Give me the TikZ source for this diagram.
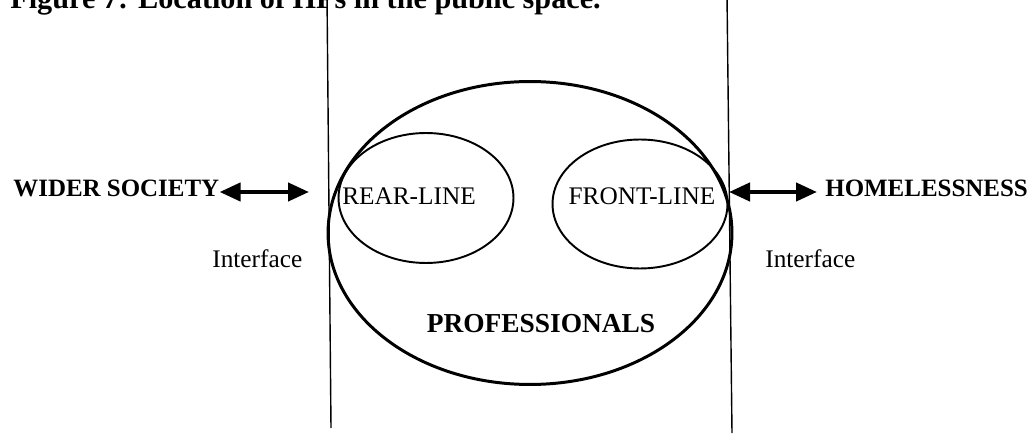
\documentclass[tikz,border=0pt]{standalone}
\usepackage{fontspec}
\setmainfont{Liberation Serif}
\usetikzlibrary{arrows.meta,shapes.geometric}

\tikzset{
  plain/.style={inner sep=0pt,font=\fontsize{14.4}{17}\selectfont},
  heavy/.style={inner sep=0pt,font=\fontsize{14.2}{17}\selectfont\bfseries},
  group/.style={ellipse,draw,inner sep=0pt,line width=1.1pt},
  twoway/.style={{Triangle[length=0.42cm,width=0.36cm]}-{Triangle[length=0.42cm,width=0.36cm]},line width=2.4pt},
  divider/.style={line width=0.8pt}
}

\begin{document}
\begin{tikzpicture}[x=0.02cm,y=-0.02cm]
\useasboundingbox (0,0) rectangle (1031,435);
\clip (0,0) rectangle (1031,435);

% caption, cut at the top of the page
\node[heavy,anchor=base west,font=\fontsize{17.2}{20}\selectfont\bfseries] (caption) at (10,9) {Figure 7: Location of HPs in the public space.};

% the two interfaces
\coordinate (ltop) at (327,-5);
\coordinate (lbot) at (331,428);
\coordinate (rtop) at (727,-5);
\coordinate (rbot) at (732,433);
\draw[divider] (ltop) -- (lbot);
\draw[divider] (rtop) -- (rbot);

% professionals
\node[group,line width=1.7pt,minimum width=8.08cm,minimum height=6.06cm] (prof) at (530,233) {};
\node[group,minimum width=3.5cm,minimum height=2.6cm] (rear) at (426,198) {};
\node[group,minimum width=3.5cm,minimum height=2.58cm] (front) at (640,204) {};
\node[plain,anchor=base] (rearlbl) at (409,205) {REAR-LINE};
\node[plain,anchor=base] (frontlbl) at (642,205) {FRONT-LINE};
\node[heavy,anchor=base,font=\fontsize{15.6}{18}\selectfont\bfseries] (proflbl) at (541,333) {PROFESSIONALS};

% outside
\node[heavy,anchor=base west] (wider) at (13,197) {WIDER SOCIETY};
\node[heavy,anchor=base west] (homeless) at (825,197) {HOMELESSNESS};
\node[plain,anchor=base west] (lface) at (212,268) {Interface};
\node[plain,anchor=base west] (rface) at (765,268) {Interface};

\coordinate (lin) at (309,192);
\coordinate (rin) at (729,192);
\draw[twoway] (wider.east |- lin) -- (lin);
\draw[twoway,shorten >=0.16cm] (rin) -- (homeless.west |- rin);
\end{tikzpicture}
\end{document}
